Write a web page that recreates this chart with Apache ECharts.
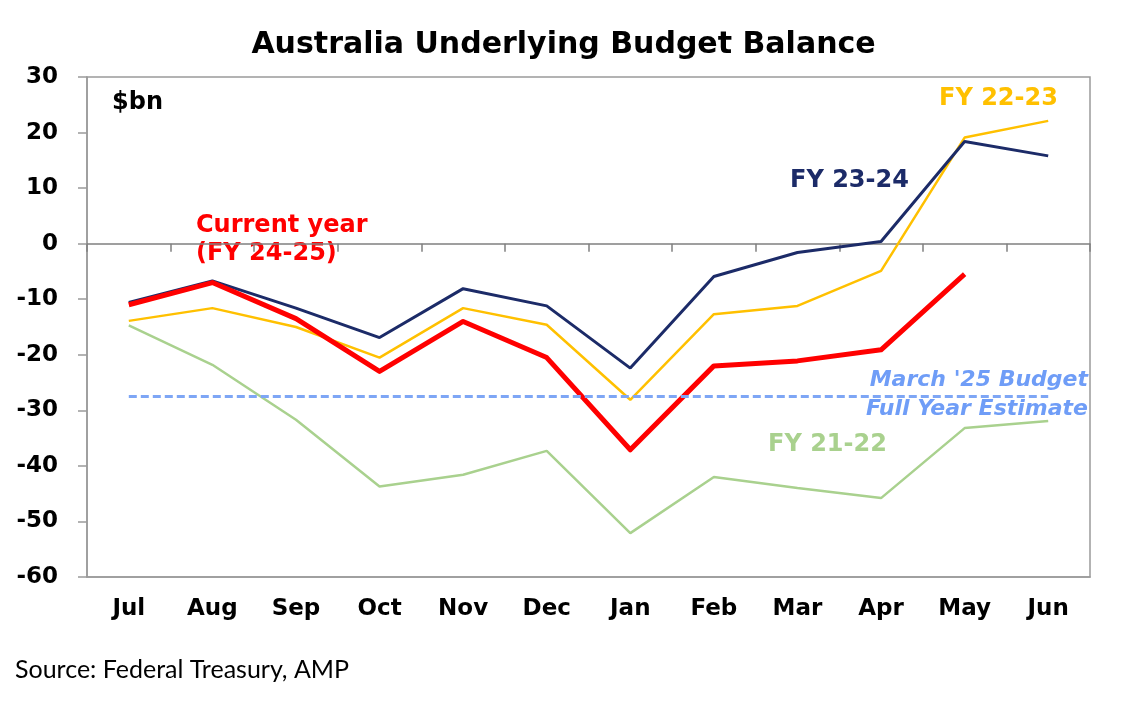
<!DOCTYPE html>
<html>
<head>
<meta charset="utf-8">
<script src="https://cdn.jsdelivr.net/npm/echarts@6/dist/echarts.min.js"></script>
<style>
html, body { margin: 0; padding: 0; background: #fff; }
#chart { width: 1127px; height: 704px; }
</style>
</head>
<body>
<div id="chart"></div>
<script>
// months of the financial year
var months = ['Jul', 'Aug', 'Sep', 'Oct', 'Nov', 'Dec', 'Jan', 'Feb', 'Mar', 'Apr', 'May', 'Jun'];

// underlying budget balance, $bn, cumulative
var fy2122 = [-14.7, -21.8, -31.7, -43.7, -41.6, -37.3, -52.1, -42.0, -44.0, -45.8, -33.2, -31.9];
var fy2223 = [-13.9, -11.6, -15.0, -20.5, -11.6, -14.6, -28.1, -12.7, -11.2, -4.9, 19.1, 22.1];
var fy2324 = [-10.6, -6.7, -11.6, -16.9, -8.1, -11.2, -22.4, -5.9, -1.6, 0.4, 18.4, 15.8];
var fy2425 = [-11.0, -7.0, -13.5, -23.0, -14.0, -20.5, -37.1, -22.0, -21.1, -19.1, -5.5, null];

var budgetEstimate = -27.5;

var chart = echarts.init(document.getElementById('chart'));

var boldFont = 'DejaVu Sans';

var option = {
	backgroundColor: '#fff',
	animation: false,
	title: {
		text: 'Australia Underlying Budget Balance',
		left: 'center',
		top: 25,
		textStyle: {
			fontFamily: boldFont,
			fontWeight: 'bold',
			fontSize: 30,
			color: '#000'
		}
	},
	grid: {
		left: 87,
		right: 37,
		top: 77,
		bottom: 127,
		show: true,
		borderColor: '#9a9a9a',
		borderWidth: 1.5
	},
	xAxis: [{
		type: 'category',
		data: months,
		position: 'bottom',
		axisLine: { onZero: false, lineStyle: { color: '#9a9a9a', width: 1.5 } },
		axisTick: { show: false },
		axisLabel: {
			margin: 21,
			fontFamily: boldFont,
			fontWeight: 'bold',
			fontSize: 23,
			color: '#000'
		}
	}, {
		// zero line with ticks
		type: 'category',
		data: months,
		position: 'bottom',
		axisLine: { onZero: true, lineStyle: { color: '#808080', width: 1.5 } },
		axisTick: { show: true, length: 8, lineStyle: { color: '#808080', width: 1.5 } },
		axisLabel: { show: false }
	}],
	yAxis: {
		type: 'value',
		min: -60,
		max: 30,
		interval: 10,
		splitLine: { show: false },
		axisLine: { show: true, lineStyle: { color: '#9a9a9a', width: 1.5 } },
		axisTick: { show: true, length: 9, lineStyle: { color: '#9a9a9a', width: 1.5 } },
		axisLabel: {
			margin: 29,
			fontFamily: boldFont,
			fontWeight: 'bold',
			fontSize: 23,
			color: '#000'
		}
	},
	series: [{
		name: 'FY 21-22',
		type: 'line',
		data: fy2122,
		symbol: 'none',
		lineStyle: { color: '#a9d18e', width: 2.5 }
	}, {
		name: 'FY 22-23',
		type: 'line',
		data: fy2223,
		symbol: 'none',
		lineStyle: { color: '#ffc000', width: 2.5 }
	}, {
		name: 'FY 23-24',
		type: 'line',
		data: fy2324,
		symbol: 'none',
		lineStyle: { color: '#1c2b68', width: 3 }
	}, {
		name: 'FY 24-25',
		type: 'line',
		data: fy2425,
		symbol: 'none',
		lineStyle: { color: '#ff0000', width: 5, join: 'round' },
		markLine: {
			silent: true,
			symbol: 'none',
			label: { show: false },
			lineStyle: { color: '#7ea6f5', width: 3, type: [8, 4] },
			data: [[
				{ coord: [months[0], budgetEstimate] },
				{ coord: [months[months.length - 1], budgetEstimate] }
			]]
		}
	}],
	graphic: [{
		type: 'text',
		style: { text: '$bn', x: 112, y: 103, textVerticalAlign: 'middle', font: 'bold 24px "DejaVu Sans"', fill: '#000' }
	}, {
		type: 'text',
		style: { text: 'Current year', x: 196, y: 226, textVerticalAlign: 'middle', font: 'bold 24px "DejaVu Sans"', fill: '#ff0000' }
	}, {
		type: 'text',
		style: { text: '(FY 24-25)', x: 196, y: 254, textVerticalAlign: 'middle', font: 'bold 24px "DejaVu Sans"', fill: '#ff0000' }
	}, {
		type: 'text',
		style: { text: 'FY 23-24', x: 790, y: 181, textVerticalAlign: 'middle', font: 'bold 24px "DejaVu Sans"', fill: '#1c2b68' }
	}, {
		type: 'text',
		style: { text: 'FY 22-23', x: 939, y: 99, textVerticalAlign: 'middle', font: 'bold 24px "DejaVu Sans"', fill: '#ffc000' }
	}, {
		type: 'text',
		style: { text: 'FY 21-22', x: 768, y: 445, textVerticalAlign: 'middle', font: 'bold 24px "DejaVu Sans"', fill: '#a9d18e' }
	}, {
		type: 'text',
		style: { text: "March '25 Budget", x: 1088, y: 380, textAlign: 'right', textVerticalAlign: 'middle', font: 'italic bold 22px "DejaVu Sans"', fill: '#6f9df7' }
	}, {
		type: 'text',
		style: { text: 'Full Year Estimate', x: 1088, y: 409, textAlign: 'right', textVerticalAlign: 'middle', font: 'italic bold 22px "DejaVu Sans"', fill: '#6f9df7' }
	}, {
		type: 'text',
		style: { text: 'Source: Federal Treasury, AMP', x: 15, y: 670, textVerticalAlign: 'middle', font: '25px Lato', fill: '#000' }
	}]
};

chart.setOption(option);
</script>
</body>
</html>
